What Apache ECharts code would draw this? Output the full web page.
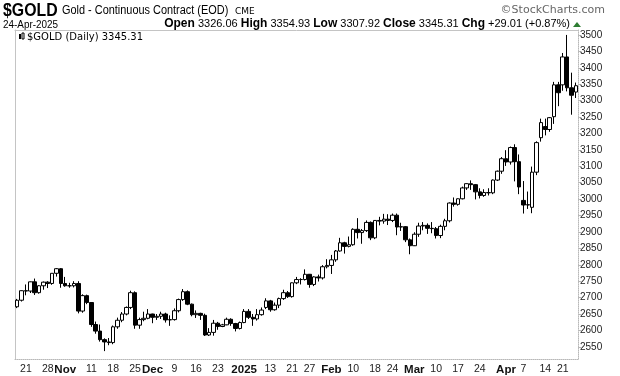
<!DOCTYPE html>
<html>
<head>
<meta charset="utf-8">
<script src="https://cdn.jsdelivr.net/npm/echarts@6/dist/echarts.min.js"></script>
<style>
  html, body { margin: 0; padding: 0; background: #fff; }
  #chart { width: 620px; height: 376px; }
</style>
</head>
<body>
<div id="chart"></div>
<script>
// daily candles, $GOLD, 17-Oct-2024 .. 24-Apr-2025
var dates = [
  '2024-10-17','2024-10-18','2024-10-21','2024-10-22','2024-10-23','2024-10-24','2024-10-25','2024-10-28','2024-10-29','2024-10-30','2024-10-31',
  '2024-11-01','2024-11-04','2024-11-05','2024-11-06','2024-11-07','2024-11-08','2024-11-11','2024-11-12','2024-11-13','2024-11-14','2024-11-15',
  '2024-11-18','2024-11-19','2024-11-20','2024-11-21','2024-11-22','2024-11-25','2024-11-26','2024-11-27','2024-11-29',
  '2024-12-02','2024-12-03','2024-12-04','2024-12-05','2024-12-06','2024-12-09','2024-12-10','2024-12-11','2024-12-12','2024-12-13',
  '2024-12-16','2024-12-17','2024-12-18','2024-12-19','2024-12-20','2024-12-23','2024-12-24','2024-12-26','2024-12-27','2024-12-30','2024-12-31',
  '2025-01-02','2025-01-03','2025-01-06','2025-01-07','2025-01-08','2025-01-10','2025-01-13','2025-01-14','2025-01-15','2025-01-16','2025-01-17',
  '2025-01-21','2025-01-22','2025-01-23','2025-01-24','2025-01-27','2025-01-28','2025-01-29','2025-01-30','2025-01-31',
  '2025-02-03','2025-02-04','2025-02-05','2025-02-06','2025-02-07','2025-02-10','2025-02-11','2025-02-12','2025-02-13','2025-02-14',
  '2025-02-18','2025-02-19','2025-02-20','2025-02-21','2025-02-24','2025-02-25','2025-02-26','2025-02-27','2025-02-28',
  '2025-03-03','2025-03-04','2025-03-05','2025-03-06','2025-03-07','2025-03-10','2025-03-11','2025-03-12','2025-03-13','2025-03-14',
  '2025-03-17','2025-03-18','2025-03-19','2025-03-20','2025-03-21','2025-03-24','2025-03-25','2025-03-26','2025-03-27','2025-03-28','2025-03-31',
  '2025-04-01','2025-04-02','2025-04-03','2025-04-04','2025-04-07','2025-04-08','2025-04-09','2025-04-10','2025-04-11',
  '2025-04-14','2025-04-15','2025-04-16','2025-04-17','2025-04-21','2025-04-22','2025-04-23','2025-04-24'
];
var openP = [
  2672,2692,2721,2720,2748,2715,2736,2747,2743,2774,2788,
  2743,2736,2736,2743,2659,2706,2685,2618,2598,2572,2565,
  2563,2611,2631,2650,2670,2715,2616,2633,2637,
  2650,2640,2643,2650,2632,2633,2660,2694,2718,2680,
  2648,2652,2646,2586,2594,2622,2612,2617,2634,2621,2606,
  2624,2658,2640,2635,2648,2670,2690,2663,2677,2697,2715,
  2703,2745,2755,2755,2771,2740,2763,2760,2794,
  2798,2815,2842,2867,2856,2861,2908,2898,2904,2929,
  2882,2935,2933,2939,2935,2951,2915,2916,2876,
  2858,2893,2918,2920,2911,2910,2889,2917,2934,2988,
  2984,3001,3034,3047,3044,3022,3011,3020,3019,3058,3085,
  3123,3113,3157,3114,2996,2982,2975,3082,3187,
  3221,3212,3251,3348,3348,3433,3339,3326.06
];
var highP = [
  2696,2722,2740,2749,2758,2738,2749,2750,2774,2790,2790,
  2763,2745,2750,2750,2710,2709,2686,2627,2618,2576,2577,
  2615,2639,2656,2673,2721,2719,2639,2657,2665,
  2651,2650,2657,2654,2646,2667,2697,2726,2722,2682,
  2661,2654,2651,2607,2632,2626,2620,2639,2637,2623,2627,
  2665,2665,2650,2665,2670,2698,2693,2685,2700,2724,2720,
  2746,2763,2759,2786,2772,2765,2770,2799,2817,
  2830,2845,2882,2870,2886,2911,2942,2909,2935,2932,
  2936,2946,2955,2954,2956,2956,2928,2918,2880,
  2899,2928,2930,2926,2930,2915,2922,2940,2990,3005,
  3002,3038,3048,3057,3046,3033,3030,3033,3060,3087,3128,
  3149,3160,3167,3136,3055,3023,3099,3176,3245,
  3245,3250,3357,3357,3445,3500,3385,3354.93
];
var lowP = [
  2668,2688,2707,2714,2708,2712,2724,2729,2739,2764,2730,
  2733,2730,2731,2652,2654,2680,2611,2590,2566,2537,2555,
  2558,2605,2625,2646,2665,2605,2605,2628,2634,
  2622,2632,2635,2624,2614,2630,2655,2690,2677,2643,
  2638,2632,2583,2583,2584,2602,2610,2616,2614,2597,2603,
  2622,2635,2614,2630,2645,2665,2657,2660,2668,2693,2699,
  2700,2741,2740,2752,2730,2735,2749,2755,2789,
  2772,2809,2840,2834,2853,2858,2880,2864,2900,2875,
  2878,2920,2925,2921,2930,2890,2903,2869,2832,
  2857,2885,2905,2894,2896,2880,2881,2905,2929,2977,
  2980,2999,3028,3028,2999,3002,3007,3011,3015,3055,3077,
  3101,3105,3054,3015,2956,2970,2957,3073,3175,
  3194,3205,3229,3283,3330,3328,3257,3307.92
];
var closeP = [
  2692,2721,2720,2748,2715,2736,2747,2743,2774,2788,2743,
  2736,2736,2743,2659,2706,2685,2618,2598,2572,2565,2563,
  2611,2631,2650,2670,2715,2616,2633,2637,2650,
  2640,2643,2650,2632,2633,2660,2694,2718,2680,2648,
  2652,2646,2586,2594,2622,2612,2617,2634,2621,2606,2624,
  2658,2640,2635,2648,2662,2690,2663,2677,2697,2715,2703,
  2745,2755,2755,2771,2740,2763,2760,2794,2798,
  2815,2842,2867,2856,2861,2908,2898,2904,2929,2882,
  2935,2933,2939,2935,2951,2915,2916,2876,2858,
  2893,2918,2920,2911,2910,2889,2917,2934,2988,2984,
  3001,3034,3047,3044,3022,3011,3020,3019,3058,3085,3123,
  3113,3157,3114,3037,2982,2983,3082,3172,3233,
  3212,3248,3348,3324,3433,3339,3316.30,3345.31
];

// axis labels
var yTicks = [2550,2600,2650,2700,2750,2800,2850,2900,2950,3000,3050,3100,3150,3200,3250,3300,3350,3400,3450,3500];
var xTickDates = ['2024-10-21','2024-10-28','2024-11-01','2024-11-11','2024-11-18','2024-11-25','2024-12-02','2024-12-09','2024-12-16','2024-12-23',
  '2025-01-02','2025-01-13','2025-01-21','2025-01-27','2025-02-03','2025-02-10','2025-02-18','2025-02-24','2025-03-03','2025-03-10','2025-03-17','2025-03-24',
  '2025-04-01','2025-04-07','2025-04-14','2025-04-21'];
var xTickText = ['21','28','Nov','11','18','25','Dec','9','16','23','2025','13','21','27','Feb','10','18','24','Mar','10','17','24','Apr','7','14','21'];
var boldTicks = ['Nov','Dec','2025','Feb','Mar','Apr'];

var candles = [];
for (var i = 0; i < dates.length; i++) {
  candles.push([openP[i], closeP[i], lowP[i], highP[i]]);
}

var chart = echarts.init(document.getElementById('chart'));
var font = 'Liberation Sans, Arial, sans-serif';
var hdr = '"Liberation Sans", Arial, sans-serif';

var option = {
  animation: false,
  grid: { left: 15, right: 42, top: 30, bottom: 16, containLabel: false },
  xAxis: [{
    type: 'category',
    data: dates,
    boundaryGap: true,
    axisLine: { show: true, lineStyle: { color: '#b8b8b8', type: 'dotted', width: 1 } },
    axisTick: { show: false },
    splitLine: { show: false },
    axisLabel: {
      interval: function (idx, val) { return xTickDates.indexOf(val) >= 0; },
      formatter: function (val) {
        var t = xTickText[xTickDates.indexOf(val)];
        return boldTicks.indexOf(t) >= 0 ? '{b|' + t + '}' : t;
      },
      margin: 5,
      color: '#222',
      fontFamily: font,
      fontSize: 10.5,
      rich: { b: { fontWeight: 'bold', fontSize: 11.5, fontFamily: font, color: '#111' } }
    }
  }, {
    type: 'category',
    data: dates,
    position: 'top',
    axisLine: { show: true, lineStyle: { color: '#c4c4c4', width: 1 } },
    axisTick: { show: false },
    axisLabel: { show: false }
  }],
  yAxis: [{
    type: 'value',
    position: 'right',
    min: 2513,
    max: 3515,
    splitLine: { show: false },
    axisLine: { show: true, lineStyle: { color: '#b8b8b8', type: 'dotted', width: 1 } },
    axisTick: { show: true, length: 3, customValues: yTicks, lineStyle: { color: '#b8b8b8' } },
    axisLabel: {
      customValues: yTicks,
      formatter: function (v) { return String(v); },
      margin: 2,
      color: '#222',
      fontFamily: font,
      fontSize: 10
    }
  }, {
    type: 'value',
    position: 'left',
    min: 2513,
    max: 3515,
    splitLine: { show: false },
    axisLine: { show: true, lineStyle: { color: '#c4c4c4', width: 1 } },
    axisTick: { show: false },
    axisLabel: { show: false }
  }],
  series: [{
    type: 'candlestick',
    name: '$GOLD',
    xAxisIndex: 0,
    yAxisIndex: 0,
    data: candles,
    barWidth: 4,
    itemStyle: {
      color: '#ffffff',
      color0: '#000000',
      borderColor: '#000000',
      borderColor0: '#000000',
      borderColorDoji: '#000000',
      borderWidth: 1
    }
  }],
  graphic: [
    { type: 'text', x: 3, y: 2, scaleX: 0.88, style: { text: '$GOLD', font: 'bold 18px ' + hdr, fill: '#000', verticalAlign: 'top' } },
    { type: 'text', x: 62, y: 5, scaleX: 0.91, style: { text: 'Gold - Continuous Contract (EOD)', font: '12px ' + hdr, fill: '#000', verticalAlign: 'top' } },
    { type: 'text', x: 235, y: 7, style: { text: 'CME', font: '9px "DejaVu Sans", sans-serif', fill: '#000', verticalAlign: 'top' } },
    { type: 'text', x: 605, y: 5, style: { text: '\u00a9StockCharts.com', font: '11px "DejaVu Sans", sans-serif', fill: '#666', align: 'right', verticalAlign: 'top' } },
    { type: 'text', x: 3, y: 19, scaleX: 0.9, style: { text: '24-Apr-2025', font: '11px ' + hdr, fill: '#000', verticalAlign: 'top' } },
    { type: 'text', x: 570, y: 18, style: {
        text: '{b|Open} 3326.06 {b|High} 3354.93 {b|Low} 3307.92 {b|Close} 3345.31 {b|Chg} +29.01 (+0.87%)',
        font: '11px ' + hdr, fill: '#000', align: 'right', verticalAlign: 'top',
        rich: { b: { font: 'bold 12px ' + hdr, fill: '#000' } }
    } },
    { type: 'polygon', shape: { points: [[573, 27], [577, 22], [581, 27]] }, style: { fill: '#2e7d32' } },
    { type: 'rect', shape: { x: 19, y: 34, width: 2, height: 5 }, style: { fill: '#000' } },
    { type: 'rect', shape: { x: 22, y: 33, width: 2, height: 6 }, style: { fill: '#fff', stroke: '#000', lineWidth: 1 } },
    { type: 'text', x: 27, y: 32, style: { text: '$GOLD (Daily) 3345.31', font: '10px "DejaVu Sans", sans-serif', fill: '#000', verticalAlign: 'top' } }
  ]
};

chart.setOption(option);
</script>
</body>
</html>
